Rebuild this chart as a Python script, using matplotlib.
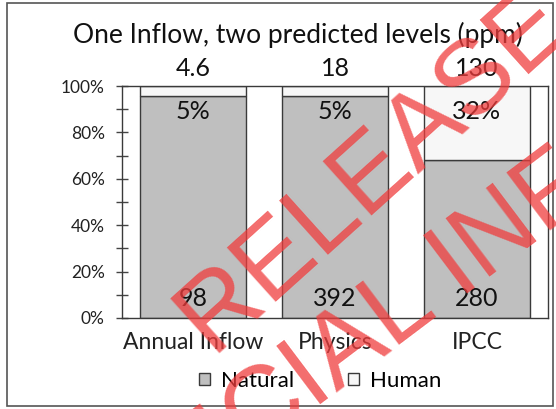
import matplotlib
matplotlib.use("Agg")
import matplotlib.pyplot as plt
from matplotlib.patches import Rectangle, Patch
import numpy as np

# Chart data
categories = ["Annual Inflow", "Physics", "IPCC"]
natural_ppm = [98, 392, 280]
human_ppm = [4.6, 18, 130]
human_share_labels = ["5%", "5%", "32%"]
ppm_labels_top = ["4.6", "18", "130"]
ppm_labels_bottom = ["98", "392", "280"]
y_ticks = [0, 20, 40, 60, 80, 100]

plt.rcParams["font.family"] = ["Lato", "DejaVu Sans"]

natural = np.array(natural_ppm, dtype=float)
human = np.array(human_ppm, dtype=float)
total = natural + human
natural_pct = natural / total * 100
human_pct = human / total * 100

W, H = 556, 409
fig = plt.figure(figsize=(W / 100, H / 100), dpi=100)
fig.patch.set_facecolor("white")

ax = fig.add_axes([122 / W, 1 - 318 / H, (548 - 122) / W, (318 - 86) / H])
x = np.arange(len(categories))
bar_w = 0.74
edge = "#3a3a3a"
gray = "#bfbfbf"
light = "#f7f7f7"
ax.bar(x, natural_pct, width=bar_w, color=gray, edgecolor=edge, linewidth=1.0, zorder=2)
ax.bar(x, human_pct, bottom=natural_pct, width=bar_w, color=light, edgecolor=edge,
       linewidth=1.0, zorder=2)

ax.set_xlim(-0.5, len(categories) - 0.5)
ax.set_ylim(0, 100)
ax.set_yticks(y_ticks)
ax.set_yticklabels([f"{t}%" for t in y_ticks], fontsize=12.5, color="#222222")
ax.set_yticks(np.arange(10, 100, 20), minor=True)
ax.tick_params(axis="y", which="both", direction="inout", length=9, width=1.0,
               color="#444444", pad=8)
ax.set_xticks(x)
ax.set_xticklabels(categories, fontsize=16.5, color="#222222")
ax.tick_params(axis="x", length=0, pad=10)
for s in ax.spines.values():
    s.set_color(edge)
    s.set_linewidth(1.0)

for i in range(len(categories)):
    ax.annotate(ppm_labels_top[i], (x[i], 100), xytext=(0, 4), textcoords="offset points",
                ha="center", va="bottom", fontsize=18, color="#111111")
    ax.annotate(human_share_labels[i], (x[i], 100), xytext=(0, -10), textcoords="offset points",
                ha="center", va="top", fontsize=18, color="#111111", zorder=3)
    ax.annotate(ppm_labels_bottom[i], (x[i], 0), xytext=(0, 6), textcoords="offset points",
                ha="center", va="bottom", fontsize=18, color="#111111", zorder=3)

fig.text(0.535, 1 - 35 / H, "One Inflow, two predicted levels (ppm)", ha="center", va="center",
         fontsize=19, color="#111111")

handles = [Patch(facecolor=gray, edgecolor=edge, label="Natural"),
           Patch(facecolor=light, edgecolor=edge, label="Human")]
fig.legend(handles=handles, loc="center", bbox_to_anchor=(0.576, 1 - 381 / H), ncol=2,
           frameon=False, fontsize=16, handlelength=0.5, handleheight=0.5,
           handletextpad=0.5, columnspacing=2.4)

fig.patches.append(Rectangle((7 / W, 3 / H), (553 - 7) / W, (406 - 3) / H,
                             transform=fig.transFigure, fill=False, edgecolor="#555555",
                             linewidth=1.2))

# Release stamp across the chart
stamp = dict(rotation_mode="anchor", ha="left", va="baseline", fontsize=76,
             color="#f03c3c", alpha=0.75, family="Liberation Sans", zorder=20)
fig.text(213 / W, 1 - 358 / H, "RELEASED UNDER THE", rotation=42, **stamp)
fig.text(60 / W, 1 - 600 / H, "OFFICIAL INFORMATION ACT", rotation=37, **stamp)

fig.savefig("out.png", dpi=100)
